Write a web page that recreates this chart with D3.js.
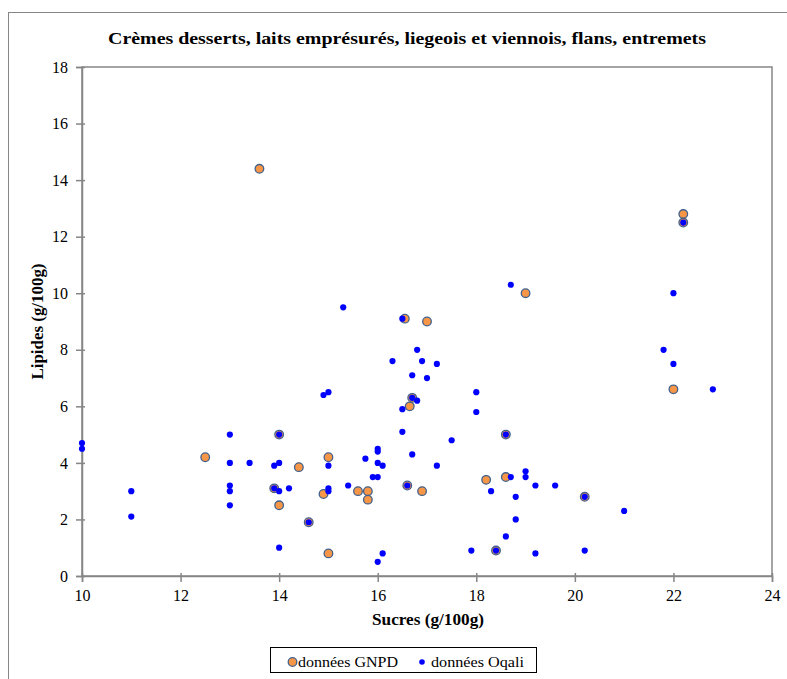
<!DOCTYPE html>
<html>
<head>
<meta charset="utf-8">
<script src="https://cdn.jsdelivr.net/npm/d3@7"></script>
<style>
  html, body { margin: 0; padding: 0; background: #fff; }
  svg { display: block; }
  text { font-family: "Liberation Serif", "DejaVu Serif", serif; fill: #000; }
</style>
</head>
<body>
<svg id="chart" width="787" height="679"></svg>
<script>
// ---- data ----
const titleText = "Crèmes desserts,  laits emprésurés,  liegeois  et viennois,  flans, entremets";
const xLabel = "Sucres (g/100g)";
const yLabel = "Lipides (g/100g)";
const seriesNames = ["données GNPD", "données Oqali"];
const xTicks = [10, 12, 14, 16, 18, 20, 22, 24];
const yTicks = [0, 2, 4, 6, 8, 10, 12, 14, 16, 18];

const gnpdSucres  = [12.5, 13.6, 13.9, 14.0, 14.0, 14.4, 14.6, 14.9, 15.0, 15.0, 15.6, 15.8, 15.8, 16.55, 16.6, 16.65, 16.7, 16.9, 17.0, 18.2, 18.4, 18.6, 18.6, 19.0, 20.2, 22.0, 22.2, 22.2];
const gnpdLipides = [4.2, 14.4, 3.1, 5.0, 2.5, 3.85, 1.9, 2.9, 4.2, 0.8, 3.0, 3.0, 2.7, 9.1, 3.2, 6.0, 6.3, 3.0, 9.0, 3.4, 0.9, 5.0, 3.5, 10.0, 2.8, 6.6, 12.8, 12.5];

const oqaliSucres  = [10, 10, 11, 11, 13, 13, 13, 13, 13, 13.4, 13.9, 14, 14, 13.9, 14, 14.2, 14.6, 14, 15.3, 14.9, 15, 15, 15, 15, 15.4, 15.75, 15.9, 16, 16, 16, 16, 16.1, 16, 16.1, 16.3, 16.5, 16.5, 16.5, 16.6, 16.7, 16.7, 16.8, 16.7, 16.8, 16.9, 17, 17.2, 17.2, 17.5, 17.9, 18, 18, 18.3, 18.4, 18.6, 18.6, 18.7, 18.7, 18.8, 18.8, 19, 19, 19.2, 19.2, 19.6, 20.2, 20.2, 21, 21.8, 22, 22, 22.2, 22.8];
const oqaliLipides = [4.7, 4.5, 3.0, 2.1, 5.0, 4.0, 3.2, 3.0, 2.5, 4.0, 3.9, 4.0, 5.0, 3.1, 3.0, 3.1, 1.9, 1.0, 9.5, 6.4, 6.5, 3.9, 3.1, 3.0, 3.2, 4.15, 3.5, 3.5, 4.5, 4.4, 4.0, 3.9, 0.5, 0.8, 7.6, 9.1, 5.9, 5.1, 3.2, 7.1, 6.3, 6.2, 4.3, 8.0, 7.6, 7.0, 7.5, 3.9, 4.8, 0.9, 6.5, 5.8, 3.0, 0.9, 5.0, 1.4, 10.3, 3.5, 2.8, 2.0, 3.7, 3.5, 3.2, 0.8, 3.2, 2.8, 0.9, 2.3, 8.0, 10.0, 7.5, 12.5, 6.6];

// ---- layout ----
const svg = d3.select("#chart");
const plot = { left: 82, right: 772, top: 67, bottom: 576 };
const axisColor = "#868686";

const x = d3.scaleLinear().domain([10, 24]).range([plot.left, plot.right]);
const y = d3.scaleLinear().domain([0, 18]).range([plot.bottom, plot.top]);

// outer chart border (extends past right/bottom edge)
svg.append("rect")
  .attr("x", 8.5).attr("y", 12.5)
  .attr("width", 800).attr("height", 700)
  .attr("fill", "none").attr("stroke", axisColor).attr("stroke-width", 1);

// plot area border
svg.append("rect")
  .attr("x", plot.left).attr("y", plot.top)
  .attr("width", plot.right - plot.left).attr("height", plot.bottom - plot.top)
  .attr("fill", "none").attr("stroke", axisColor).attr("stroke-width", 1.5);

// title
svg.append("text")
  .attr("x", 407).attr("y", 44)
  .attr("text-anchor", "middle")
  .attr("font-weight", "bold")
  .attr("font-size", 16)
  .attr("textLength", 598)
  .attr("lengthAdjust", "spacingAndGlyphs")
  .text(titleText);

// axes
const xAxis = d3.axisBottom(x).tickValues(xTicks).tickSize(6).tickPadding(8).tickFormat(d3.format("d"));
const yAxis = d3.axisLeft(y).tickValues(yTicks).tickSize(6).tickPadding(8).tickFormat(d3.format("d"));

const gx = svg.append("g").attr("transform", `translate(0,${plot.bottom})`).call(xAxis);
const gy = svg.append("g").attr("transform", `translate(${plot.left},0)`).call(yAxis);

[gx, gy].forEach(g => {
  g.select(".domain").attr("stroke", axisColor).attr("stroke-width", 1.5);
  g.selectAll(".tick line").attr("stroke", axisColor).attr("stroke-width", 1.5);
  g.selectAll(".tick text")
    .attr("font-family", "'Liberation Serif', serif")
    .attr("font-size", 16)
    .attr("fill", "#000");
});
gx.selectAll(".tick line").attr("y1", -3).attr("y2", 6);
gy.selectAll(".tick line").attr("x1", 3).attr("x2", -6);

// axis titles
svg.append("text")
  .attr("x", 428).attr("y", 625)
  .attr("text-anchor", "middle")
  .attr("font-weight", "bold")
  .attr("font-size", 16.5)
  .attr("textLength", 112)
  .attr("lengthAdjust", "spacingAndGlyphs")
  .text(xLabel);

svg.append("text")
  .attr("transform", `translate(43,${(plot.top + plot.bottom) / 2}) rotate(-90)`)
  .attr("text-anchor", "middle")
  .attr("font-weight", "bold")
  .attr("font-size", 16.5)
  .attr("textLength", 116)
  .attr("lengthAdjust", "spacingAndGlyphs")
  .text(yLabel);

// series
const gnpd = gnpdSucres.map((s, i) => ({ x: s, y: gnpdLipides[i] }));
const oqali = oqaliSucres.map((s, i) => ({ x: s, y: oqaliLipides[i] }));

const orange = "#F79646";
const ring = "#41618C";
const blue = "#0000FF";

svg.append("g").selectAll("circle").data(gnpd).join("circle")
  .attr("cx", d => x(d.x)).attr("cy", d => y(d.y))
  .attr("r", 4.3)
  .attr("fill", orange).attr("stroke", ring).attr("stroke-width", 1.3);

svg.append("g").selectAll("circle").data(oqali).join("circle")
  .attr("cx", d => x(d.x)).attr("cy", d => y(d.y))
  .attr("r", 3.1)
  .attr("fill", blue);

// legend
const lg = svg.append("g");
lg.append("rect")
  .attr("x", 270.5).attr("y", 647.5).attr("width", 266).attr("height", 25)
  .attr("fill", "#fff").attr("stroke", "#000").attr("stroke-width", 1);
lg.append("circle").attr("cx", 292.5).attr("cy", 662).attr("r", 4.3)
  .attr("fill", orange).attr("stroke", ring).attr("stroke-width", 1.3);
lg.append("text").attr("x", 298).attr("y", 667).attr("font-size", 15)
  .attr("textLength", 100).attr("lengthAdjust", "spacingAndGlyphs").text(seriesNames[0]);
lg.append("circle").attr("cx", 422).attr("cy", 662).attr("r", 2.8).attr("fill", blue);
lg.append("text").attr("x", 431).attr("y", 667).attr("font-size", 15)
  .attr("textLength", 93).attr("lengthAdjust", "spacingAndGlyphs").text(seriesNames[1]);
</script>
</body>
</html>
